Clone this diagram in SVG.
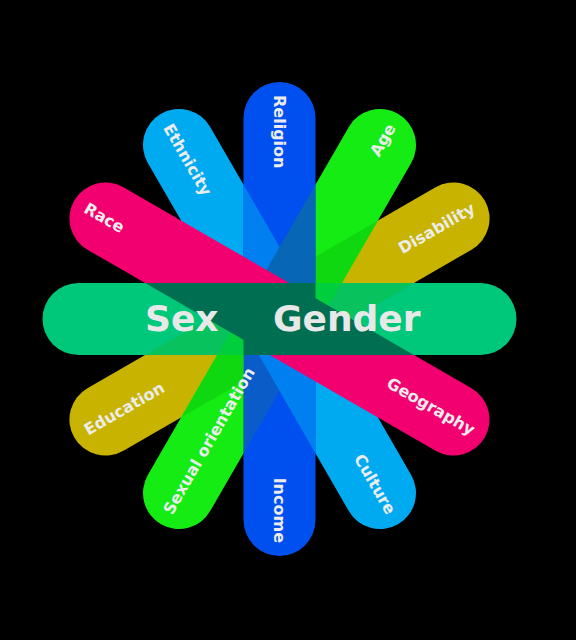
<svg xmlns="http://www.w3.org/2000/svg" xmlns:xlink="http://www.w3.org/1999/xlink" width="576" height="640" viewBox="0 0 576 640">
<style>
  .lbl{font-family:"DejaVu Sans","Liberation Sans",sans-serif;font-weight:bold;font-size:16px;fill:#ECECEC}
  .big{font-family:"DejaVu Sans","Liberation Sans",sans-serif;font-weight:bold;font-size:36px;fill:#E8E8E8}
  .olive{fill:#C8B400}
  .green{fill:#14EC14}
  .lblue{fill:#00AAF0}
  .blue{fill:#0050F0}
  .pink{fill:#F20070}
  .hgreen{fill:#00C87A}
  .dark{fill:#006E50}
</style>
<defs>
  <path id="petal" d="M-0.5,-36 H201 A36,36 0 0 1 201,36 H-0.5 Z"/>
  <rect id="band" x="-237" y="-36" width="474" height="72" rx="36"/>
  <clipPath id="cBlue"><rect x="-237" y="-36" width="474" height="72" rx="36" transform="translate(279.5 319) rotate(90)"/></clipPath>
  <clipPath id="cLBlue"><rect x="-237" y="-36" width="474" height="72" rx="36" transform="translate(279.5 319) rotate(60)"/></clipPath>
  <clipPath id="cPink"><rect x="-237" y="-36" width="474" height="72" rx="36" transform="translate(279.5 319) rotate(30)"/></clipPath>
  <clipPath id="cGreen"><rect x="-237" y="-36" width="474" height="72" rx="36" transform="translate(279.5 319) rotate(-60)"/></clipPath>
  <clipPath id="cOlive"><rect x="-237" y="-36" width="474" height="72" rx="36" transform="translate(279.5 319) rotate(-30)"/></clipPath>
  <clipPath id="cSexHalf"><path d="M-0.5,-36 H201 A36,36 0 0 1 201,36 H-0.5 Z" transform="translate(279.5 319) rotate(180)"/></clipPath>
  <clipPath id="cGenderHalf"><path d="M-0.5,-36 H201 A36,36 0 0 1 201,36 H-0.5 Z" transform="translate(279.5 319)"/></clipPath>
  <mask id="mSO" maskUnits="userSpaceOnUse" x="0" y="0" width="576" height="640">
    <rect x="0" y="0" width="576" height="640" fill="#fff"/>
    <rect x="-237" y="-36" width="474" height="72" rx="36" transform="translate(279.5 319) rotate(90)" fill="#000"/>
    <rect x="-237" y="-36" width="474" height="72" rx="36" transform="translate(279.5 319) rotate(30)" fill="#000"/>
  </mask>
</defs>
<rect x="0" y="0" width="576" height="640" fill="#000"/>

<g id="node-disability">
  <use href="#petal" class="olive" transform="translate(279.5 319) rotate(-30)"/>
  <text class="lbl" transform="translate(279.5 319) rotate(-30)" x="224" y="5.5" text-anchor="end">Disability</text>
</g>
<g id="node-education">
  <use href="#petal" class="olive" transform="translate(279.5 319) rotate(150)"/>
  <text class="lbl" transform="translate(279.5 319) rotate(-30)" x="-224" y="5.5" text-anchor="start">Education</text>
</g>
<g id="node-age">
  <use href="#petal" class="green" transform="translate(279.5 319) rotate(-60)"/>
  <g clip-path="url(#cOlive)"><use href="#petal" fill="#10D810" transform="translate(279.5 319) rotate(-60)"/></g>
  <text class="lbl" transform="translate(279.5 319) rotate(-60)" x="224" y="5.5" text-anchor="end">Age</text>
</g>
<g id="node-ethnicity">
  <use href="#petal" class="lblue" transform="translate(279.5 319) rotate(-120)"/>
  <text class="lbl" transform="translate(279.5 319) rotate(60)" x="-224" y="5.5" text-anchor="start">Ethnicity</text>
</g>
<g id="node-culture">
  <use href="#petal" class="lblue" transform="translate(279.5 319) rotate(60)"/>
  <text class="lbl" transform="translate(279.5 319) rotate(60)" x="224" y="5.5" text-anchor="end">Culture</text>
</g>
<g id="node-religion">
  <use href="#petal" class="blue" transform="translate(279.5 319) rotate(-90)"/>
  <g clip-path="url(#cLBlue)"><use href="#petal" fill="#0080F0" transform="translate(279.5 319) rotate(-90)"/></g>
  <g clip-path="url(#cGreen)"><use href="#petal" fill="#0866B6" transform="translate(279.5 319) rotate(-90)"/></g>
  <text class="lbl" transform="translate(279.5 319) rotate(90)" x="-224" y="5.5" text-anchor="start">Religion</text>
</g>
<g id="node-income">
  <use href="#petal" class="blue" transform="translate(279.5 319) rotate(90)"/>
  <g clip-path="url(#cGreen)"><use href="#petal" fill="#0A5CC8" transform="translate(279.5 319) rotate(90)"/></g>
  <g clip-path="url(#cLBlue)"><use href="#petal" fill="#0080F0" transform="translate(279.5 319) rotate(90)"/></g>
  <text class="lbl" transform="translate(279.5 319) rotate(90)" x="224" y="5.5" text-anchor="end">Income</text>
</g>
<g id="node-sexual-orientation">
  <g mask="url(#mSO)">
    <use href="#petal" class="green" transform="translate(279.5 319) rotate(120)"/>
    <g clip-path="url(#cOlive)"><use href="#petal" fill="#10D810" transform="translate(279.5 319) rotate(120)"/></g>
  </g>
  <text class="lbl" transform="translate(279.5 319) rotate(-60)" x="-224" y="5.5" text-anchor="start">Sexual orientation</text>
</g>
<g id="node-race">
  <use href="#petal" class="pink" transform="translate(279.5 319) rotate(-150)"/>
  <text class="lbl" transform="translate(279.5 319) rotate(30)" x="-224" y="5.5" text-anchor="start">Race</text>
</g>
<g id="node-geography">
  <use href="#petal" class="pink" transform="translate(279.5 319) rotate(30)"/>
  <text class="lbl" transform="translate(279.5 319) rotate(30)" x="224" y="5.5" text-anchor="end">Geography</text>
</g>
<g id="node-sex">
  <use href="#petal" class="hgreen" transform="translate(279.5 319) rotate(180)"/>
  <g clip-path="url(#cSexHalf)">
    <use href="#band" fill="#08C25E" transform="translate(279.5 319) rotate(-30)"/>
    <use href="#band" fill="#00CE3C" transform="translate(279.5 319) rotate(-60)"/>
    <use href="#band" class="dark" transform="translate(279.5 319) rotate(30)"/>
    <use href="#band" class="dark" transform="translate(279.5 319) rotate(90)"/>
  </g>
  <text class="big" x="145" y="331">Sex</text>
</g>
<g id="node-gender">
  <use href="#petal" class="hgreen" transform="translate(279.5 319)"/>
  <g clip-path="url(#cGenderHalf)">
    <use href="#band" fill="#08C25E" transform="translate(279.5 319) rotate(-30)"/>
    <use href="#band" fill="#00CE3C" transform="translate(279.5 319) rotate(-60)"/>
    <use href="#band" class="dark" transform="translate(279.5 319) rotate(30)"/>
    <use href="#band" class="dark" transform="translate(279.5 319) rotate(90)"/>
  </g>
  <text class="big" x="273" y="331">Gender</text>
</g>
<g id="connectors"></g>
</svg>
